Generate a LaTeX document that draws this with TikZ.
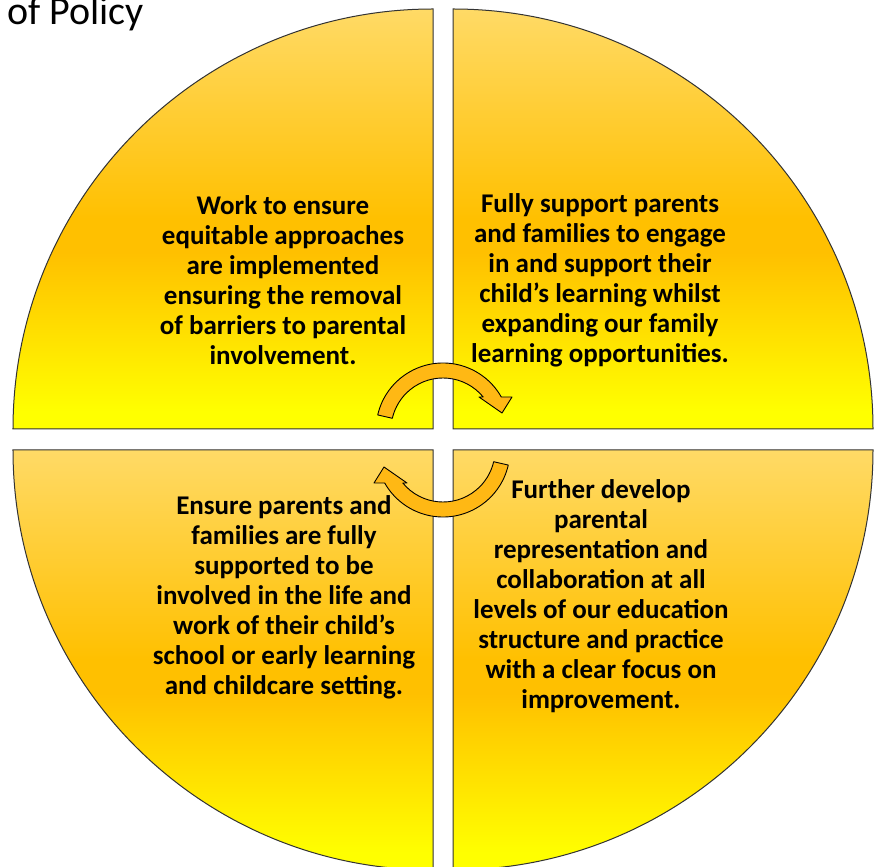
\documentclass[tikz,border=0pt]{standalone}
\usepackage{fontspec}
\setmainfont{Carlito}
\definecolor{qlight}{HTML}{FFDA66}
\definecolor{qorange}{HTML}{FFC000}
\definecolor{qyellow}{HTML}{FFFF00}
\definecolor{arroworange}{HTML}{FFB814}
\pgfdeclareverticalshading{quartershade}{100bp}{color(0bp)=(qyellow); color(27bp)=(qyellow); color(46bp)=(qorange); color(50bp)=(qorange); color(75bp)=(qlight); color(100bp)=(qlight)}
\tikzset{
  quarter/.style={draw=black!80, line width=1pt, shading=quartershade},
  aim/.style={align=center, inner sep=0pt, font=\bfseries\fontsize{27}{30}\selectfont},
  cyclearrow/.style={draw=black, line width=0.9pt, fill=arroworange, line join=round}
}
\begin{document}
\begin{tikzpicture}[x=1pt,y=1pt]
\useasboundingbox (-443,-426) rectangle (431,440);
\clip (-443,-426) rectangle (431,440);
% four quarters
\draw[quarter] (-10,11) -- (-430,11) arc[start angle=180, end angle=90, radius=420] -- cycle;
\draw[quarter] (10,11) -- (10,431) arc[start angle=90, end angle=0, radius=420] -- cycle;
\draw[quarter] (-10,-10) -- (-10,-430) arc[start angle=270, end angle=180, radius=420] -- cycle;
\draw[quarter] (10,-10) -- (430,-10) arc[start angle=0, end angle=-90, radius=420] -- cycle;
% turning arrows
\draw[cyclearrow, shift={(0,10)}] (167:67) arc[start angle=167, end angle=29.5, radius=67]
  -- (69,33) -- (59,17) -- (36,33) -- (39.4:52) arc[start angle=39.4, end angle=167, radius=52] -- cycle;
\draw[cyclearrow, rotate=180, shift={(0,10)}] (167:67) arc[start angle=167, end angle=29.5, radius=67]
  -- (69,33) -- (59,17) -- (36,33) -- (39.4:52) arc[start angle=39.4, end angle=167, radius=52] -- cycle;
\node[anchor=base west, inner sep=0pt, font=\fontsize{40}{44}\selectfont] (title) at (-436,415) {of Policy};
\node[aim] (work) at (-160,160) {Work to ensure\\equitable approaches\\are implemented\\ensuring the removal\\of barriers to parental\\involvement.};
\node[aim] (support) at (157,160) {Fully support parents\\and families to engage\\in and support their\\child’s learning whilst\\expanding our family\\learning opportunities.};
\node[aim] (involve) at (-159,-157) {Ensure parents and\\families are fully\\supported to be\\involved in the life and\\work of their child’s\\school or early learning\\and childcare setting.};
\node[aim] (develop) at (158,-156) {Further develop\\parental\\representation and\\collaboration at all\\levels of our education\\structure and practice\\with a clear focus on\\improvement.};
\end{tikzpicture}
\end{document}
